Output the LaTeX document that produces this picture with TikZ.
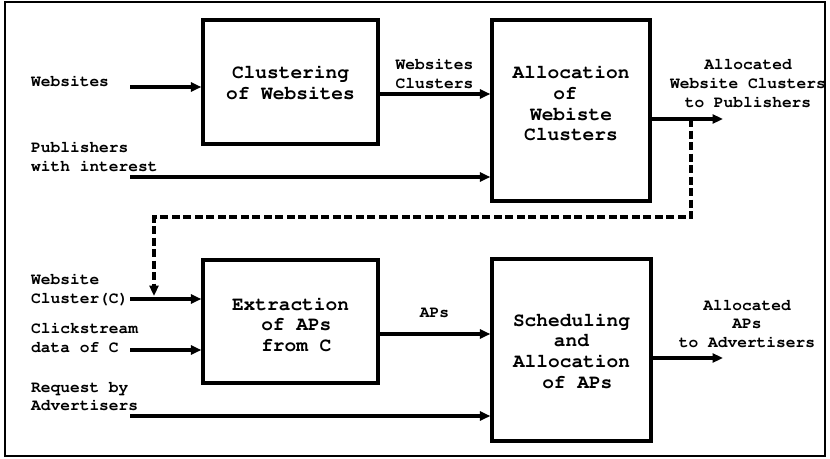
\documentclass[tikz,border=0pt]{standalone}
\usepackage[T1]{fontenc}
\usepackage{courier}
\usetikzlibrary{arrows.meta,calc}
\begin{document}
\begin{tikzpicture}[x=1pt,y=-1pt,
  box/.style={draw, line width=3.2pt, inner sep=0pt},
  boxtext/.style={inner sep=0pt, align=center, font=\ttfamily\bfseries\fontsize{19.5}{20.7}\selectfont},
  lbl/.style={inner sep=0pt, font=\ttfamily\bfseries\fontsize{16.2}{18.7}\selectfont},
  arr/.style={line width=3.1pt, -{Triangle[length=10.5pt,width=9pt]}},
  dsh/.style={line width=3.1pt, dash pattern=on 8pt off 3.5pt, -{Triangle[length=10.5pt,width=9pt]}}]
\useasboundingbox (0,0) rectangle (830,458);
\draw[line width=2pt] (4.5,2) rectangle (824.5,455.5);

% boxes
\node[box, minimum width=175pt, minimum height=124pt] (b1) at (290.5,82) {};
\node[box, minimum width=158pt, minimum height=181pt] (b2) at (571,110.5) {};
\node[box, minimum width=175pt, minimum height=123pt] (b3) at (290.5,321.5) {};
\node[box, minimum width=159pt, minimum height=182pt] (b4) at (571.5,350) {};

\node[boxtext] (b1t) at ($(b1.center)+(0,1)$) {Clustering\\of Websites};
\node[boxtext] (b2t) at ($(b2.center)+(0,-7)$) {Allocation\\of\hphantom{x}\\Webiste\\Clusters};
\node[boxtext] (b3t) at ($(b3.center)+(0,3)$) {Extraction\\\hphantom{x}of APs\\\hphantom{x}from C};
\node[boxtext] (b4t) at ($(b4.center)+(0,1)$) {Scheduling\\and\\Allocation\\\hphantom{x}of APs};

% labels
\node[lbl, anchor=west] (lw) at (31,81) {Websites};
\node[lbl, anchor=west, align=left] (lp) at (31,156.5) {Publishers\\with interest};
\node[lbl, anchor=west, align=left] (lc) at (31,289.5) {Website\\Cluster(C)};
\node[lbl, anchor=west, align=left] (lk) at (31,338) {Clickstream\\data of C};
\node[lbl, anchor=west, align=left] (lr) at (31,396.5) {Request by\\Advertisers};
\node[lbl, align=center] (lwc) at (434.5,74) {Websites\\Clusters};
\node[lbl, align=center] (lo1) at (748,83.5) {Allocated\\Website Clusters\\to Publishers};
\node[lbl] (laps) at (434.5,313) {APs};
\node[lbl, align=center] (lo2) at (747,324) {Allocated\\APs\\to Advertisers};

% free ends
\coordinate (w0) at (130,87);
\coordinate (p0) at (130,177);
\coordinate (o1) at (723,119);
\coordinate (c0) at (130,299);
\coordinate (k0) at (130,350);
\coordinate (r0) at (130,416);
\coordinate (o2) at (723,358);
\coordinate (dtop) at (691,119);
\coordinate (dr) at (691,217);
\coordinate (dl) at (154,217);
\coordinate (dend) at (154,296);

% connectors
\draw[arr] (w0) -- (w0 -| b1.west);
\draw[arr] ([yshift=-12pt]b1.east) -- ([yshift=-12pt]b1.east -| b2.west);
\draw[arr] (p0) -- (p0 -| b2.west);
\draw[arr] (o1 -| b2.east) -- (o1);
\draw[dsh] (dtop) -- (dr) -- (dl) -- (dend);
\draw[arr] (c0) -- (c0 -| b3.west);
\draw[arr] (k0) -- (k0 -| b3.west);
\draw[arr] (r0) -- (r0 -| b4.west);
\draw[arr] ([yshift=-12.5pt]b3.east) -- ([yshift=-12.5pt]b3.east -| b4.west);
\draw[arr] (o2 -| b4.east) -- (o2);
\end{tikzpicture}
\end{document}
